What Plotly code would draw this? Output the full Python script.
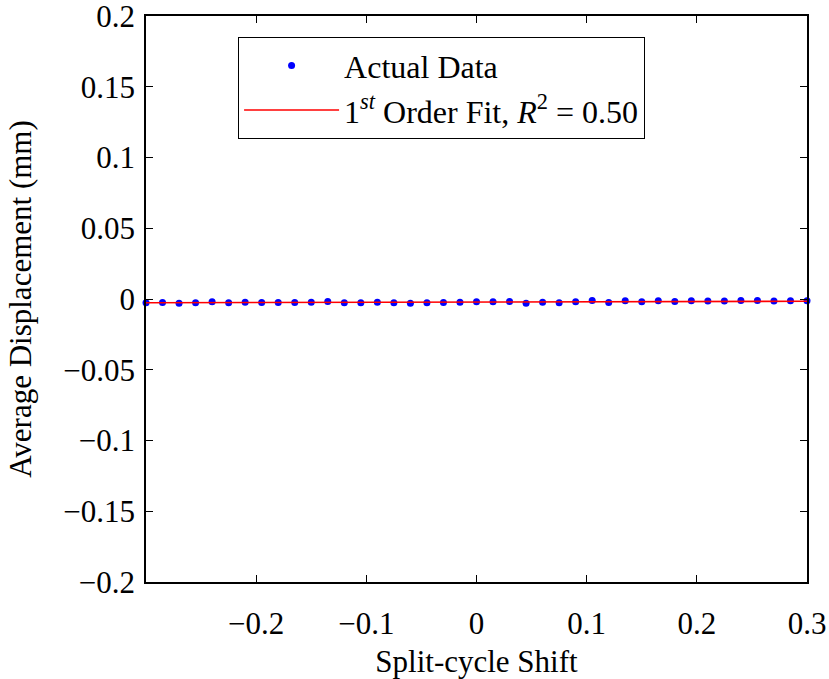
import plotly.graph_objects as go

# Data
x_shift = [-0.3 + 0.015 * i for i in range(41)]
avg_disp = [-0.0027, -0.0025, -0.0030, -0.0027, -0.0020, -0.0027, -0.0023, -0.0025,
            -0.0025, -0.0025, -0.0023, -0.0018, -0.0027, -0.0027, -0.0023, -0.0027,
            -0.0030, -0.0027, -0.0025, -0.0023, -0.0020, -0.0020, -0.0018, -0.0030,
            -0.0023, -0.0027, -0.0020, -0.0011, -0.0025, -0.0013, -0.0020, -0.0013,
            -0.0018, -0.0013, -0.0015, -0.0015, -0.0011, -0.0011, -0.0015, -0.0013,
            -0.0013]
fit_x = [-0.3, 0.3]
fit_y = [-0.0027, -0.0016]

x_ticks = [-0.2, -0.1, 0, 0.1, 0.2, 0.3]
x_ticktext = ["\u22120.2", "\u22120.1", "0", "0.1", "0.2", "0.3"]
y_ticks = [-0.2, -0.15, -0.1, -0.05, 0, 0.05, 0.1, 0.15, 0.2]
y_ticktext = ["\u22120.2", "\u22120.15", "\u22120.1", "\u22120.05", "0", "0.05", "0.1", "0.15", "0.2"]

FONT = "Liberation Serif"
FS = 31

fig = go.Figure()
fig.add_trace(go.Scatter(x=x_shift, y=avg_disp, mode="markers", name="Actual Data",
                         marker=dict(color="#0000ff", size=7), cliponaxis=False))
fig.add_trace(go.Scatter(x=fit_x, y=fit_y, mode="lines",
                         name="1<sup><i>st</i></sup> Order Fit, <i>R</i><sup>2</sup> = 0.50",
                         line=dict(color="#ff0000", width=1.6)))

axis_common = dict(showline=True, linecolor="black", linewidth=1.5, mirror="ticks",
                   ticks="inside", ticklen=7, tickwidth=1, tickcolor="black",
                   showgrid=False, zeroline=False, ticklabeloverflow="allow",
                   automargin=False,
                   tickfont=dict(family=FONT, size=FS, color="black"))

fig.update_layout(
    width=829, height=679,
    margin=dict(l=146, r=22, t=16, b=97, autoexpand=False),
    paper_bgcolor="white", plot_bgcolor="white",
    font=dict(family=FONT, size=FS, color="black"),
    xaxis=dict(range=[-0.3, 0.3], tickvals=x_ticks, ticktext=x_ticktext,
               ticklabelstandoff=13,
               title=dict(text="Split-cycle Shift", font=dict(family=FONT, size=FS), standoff=10),
               **axis_common),
    yaxis=dict(range=[-0.2, 0.2], tickvals=y_ticks, ticktext=y_ticktext,
               ticklabelstandoff=3,
               title=dict(text="Average Displacement (mm)", font=dict(family=FONT, size=FS), standoff=22),
               **axis_common),
    legend=dict(x=0.139, y=0.963, xanchor="left", yanchor="top",
                bordercolor="black", borderwidth=1.2, bgcolor="white",
                font=dict(family=FONT, size=32), itemwidth=95,
                tracegroupgap=0),
    showlegend=True,
)

fig.write_html("out.html")
